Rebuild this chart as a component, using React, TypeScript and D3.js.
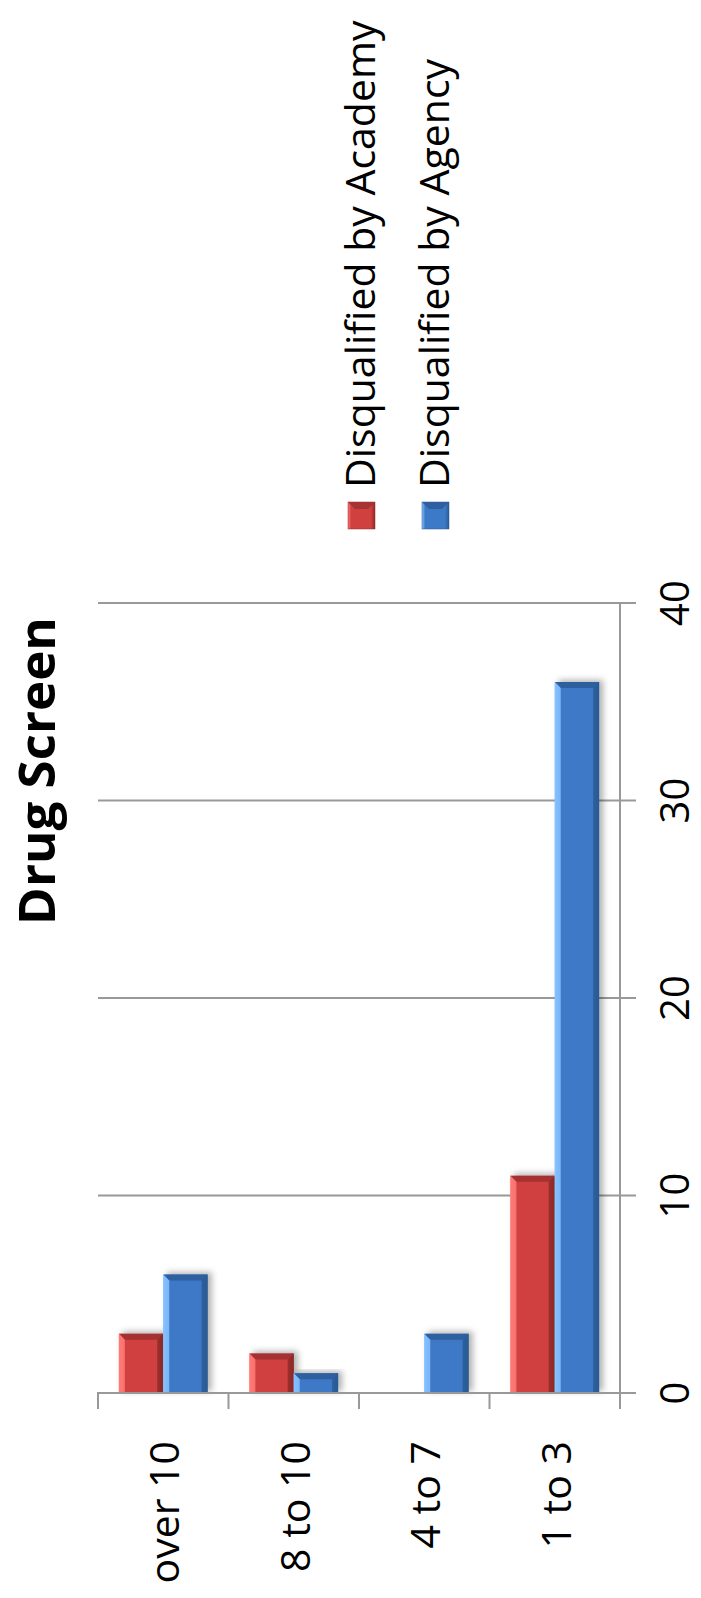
import * as d3 from "d3";
import React, { useEffect, useRef } from "react";

const categories = ["over 10", "8 to 10", "4 to 7", "1 to 3"];
const seriesNames = ["Disqualified by Academy", "Disqualified by Agency"];
const academyValues = [3, 2, 0, 11];
const agencyValues = [6, 1, 3, 36];
const valueTicks = [0, 10, 20, 30, 40];
const chartTitle = "Drug Screen";

const W = 701;
const H = 1598;
const FONT = "'Open Sans', Lato, sans-serif";

const palettes = [
  { light: "#ff7b78", mid: "#d0403f", dark: "#8e2a29", top: "#a53332" },
  { light: "#86c2ff", mid: "#3c79c6", dark: "#2b5a93", top: "#2f5f9e" },
];

function App() {
  const ref = useRef<SVGSVGElement>(null);

  useEffect(() => {
    const svg = d3.select(ref.current);
    svg.selectAll("*").remove();

    const x = d3.scaleBand<string>().domain(categories).range([98, 620]);
    const x1 = d3
      .scaleBand<number>()
      .domain([0, 1])
      .range([0, x.bandwidth()])
      .paddingOuter(0.47);
    const y = d3.scaleLinear().domain([0, 40]).range([1393, 603]);

    const defs = svg.append("defs");
    palettes.forEach((p, i) => {
      const g = defs
        .append("linearGradient")
        .attr("id", "grad" + i)
        .attr("x1", 0)
        .attr("x2", 1)
        .attr("y1", 0)
        .attr("y2", 0);
      g.append("stop").attr("offset", "0").attr("stop-color", p.light);
      g.append("stop").attr("offset", "0.12").attr("stop-color", p.mid);
      g.append("stop").attr("offset", "0.85").attr("stop-color", p.mid);
      g.append("stop").attr("offset", "1").attr("stop-color", p.dark);
    });
    const f = defs.append("filter").attr("id", "shadow").attr("x", "-20%").attr("y", "-20%").attr("width", "150%").attr("height", "140%");
    f.append("feDropShadow")
      .attr("dx", 4)
      .attr("dy", -2)
      .attr("stdDeviation", 3)
      .attr("flood-color", "#000")
      .attr("flood-opacity", 0.3);

    // gridlines
    svg
      .append("g")
      .selectAll("line")
      .data(valueTicks)
      .join("line")
      .attr("x1", 98)
      .attr("x2", 636)
      .attr("y1", (d) => y(d))
      .attr("y2", (d) => y(d))
      .attr("stroke", "#999")
      .attr("stroke-width", 2);

    // value axis line (right side)
    svg
      .append("line")
      .attr("x1", 620)
      .attr("x2", 620)
      .attr("y1", y(40))
      .attr("y2", 1409)
      .attr("stroke", "#999")
      .attr("stroke-width", 2);

    // category ticks
    const catTicks = categories.map((c) => x(c)!).concat([620]);
    svg
      .append("g")
      .selectAll("line")
      .data(catTicks)
      .join("line")
      .attr("x1", (d) => d)
      .attr("x2", (d) => d)
      .attr("y1", y(0))
      .attr("y2", 1409)
      .attr("stroke", "#999")
      .attr("stroke-width", 2);

    // bars
    const series = [academyValues, agencyValues];
    const bars = svg.append("g");
    series.forEach((vals, si) => {
      const p = palettes[si];
      vals.forEach((v, ci) => {
        if (v <= 0) return;
        const bx = x(categories[ci])! + x1(si)!;
        const bw = x1.bandwidth();
        const by = y(v);
        const bh = y(0) - by;
        const g = bars.append("g").attr("filter", "url(#shadow)");
        g.append("rect")
          .attr("x", bx)
          .attr("y", by)
          .attr("width", bw)
          .attr("height", bh)
          .attr("fill", `url(#grad${si})`);
        const b = 6;
        // top bevel
        g.append("path")
          .attr("d", `M${bx},${by}L${bx + bw},${by}L${bx + bw - b},${by + b}L${bx + b},${by + b}Z`)
          .attr("fill", p.top);
        // left bevel
        g.append("path")
          .attr("d", `M${bx},${by}L${bx + b},${by + b}L${bx + b},${by + bh}L${bx},${by + bh}Z`)
          .attr("fill", p.light)
          .attr("opacity", 0.85);
        // right bevel
        g.append("path")
          .attr("d", `M${bx + bw},${by}L${bx + bw - b},${by + b}L${bx + bw - b},${by + bh}L${bx + bw},${by + bh}Z`)
          .attr("fill", p.dark)
          .attr("opacity", 0.8);
      });
    });

    // baseline on top of bars
    svg
      .append("line")
      .attr("x1", 97)
      .attr("x2", 636)
      .attr("y1", y(0))
      .attr("y2", y(0))
      .attr("stroke", "#999")
      .attr("stroke-width", 2);

    // value labels (baseline toward the right edge)
    svg
      .append("g")
      .selectAll("text")
      .data(valueTicks)
      .join("text")
      .attr("transform", (d) => `translate(689,${y(d)}) rotate(-90)`)
      .attr("text-anchor", "middle")
      .style("font-family", FONT)
      .style("font-size", "40px")
      .text((d) => d);

    // category labels
    svg
      .append("g")
      .selectAll("text")
      .data(categories)
      .join("text")
      .attr("transform", (d) => `translate(${x(d)! + x.bandwidth() / 2},1441) rotate(-90)`)
      .attr("text-anchor", "end")
      .attr("dominant-baseline", "central")
      .style("font-family", FONT)
      .style("font-size", "41px")
      .text((d) => d);

    // title (alphabetic baseline on the right side of the rotated text)
    svg
      .append("text")
      .attr("transform", "translate(55,771) rotate(-90)")
      .attr("text-anchor", "middle")
      .style("font-family", FONT)
      .style("font-weight", "bold")
      .style("font-size", "51px")
      .text(chartTitle);

    // legend
    const legendX = [362, 436];
    seriesNames.forEach((name, i) => {
      const p = palettes[i];
      const lg = svg.append("g");
      lg.append("rect")
        .attr("x", legendX[i] - 14)
        .attr("y", 502)
        .attr("width", 27)
        .attr("height", 27)
        .attr("fill", `url(#grad${i})`)
        .attr("stroke", p.dark)
        .attr("stroke-width", 0.5);
      lg.append("path")
        .attr("d", `M${legendX[i] - 14},502L${legendX[i] - 7},509L${legendX[i] + 6},509L${legendX[i] + 13},502Z`)
        .attr("fill", p.top);
      lg.append("text")
        .attr("transform", `translate(${legendX[i] - 3},488) rotate(-90)`)
        .attr("text-anchor", "start")
        .attr("dominant-baseline", "central")
        .style("font-family", FONT)
        .style("font-size", "41px")
        .text(name);
    });
  }, []);

  return (
    <svg
      ref={ref}
      width={W}
      height={H}
      style={{ position: "absolute", left: 0, top: 0, background: "#fff" }}
    />
  );
}

export default App;
